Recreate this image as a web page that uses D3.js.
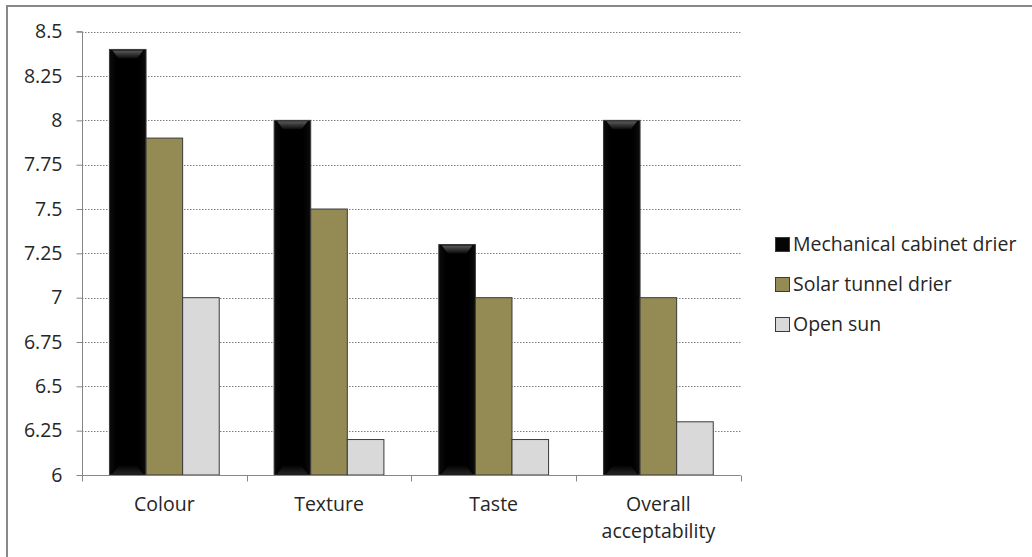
<!DOCTYPE html>
<html><head><meta charset="utf-8">
<script src="https://cdn.jsdelivr.net/npm/d3@7"></script>
<style>body{margin:0;background:#fff}svg{display:block}</style>
</head><body>
<svg id="c" width="1032" height="557"></svg>
<script>
const categories = ["Colour", "Texture", "Taste", "Overall acceptability"];
const seriesNames = ["Mechanical cabinet drier", "Solar tunnel drier", "Open sun"];
const mechanical = [8.4, 8.0, 7.3, 8.0];
const solar = [7.9, 7.5, 7.0, 7.0];
const openSun = [7.0, 6.2, 6.2, 6.3];
const yTicks = [6, 6.25, 6.5, 6.75, 7, 7.25, 7.5, 7.75, 8, 8.25, 8.5];
const seriesValues = [mechanical, solar, openSun];
const colors = ["#050505", "#948A54", "#D9D9D9"];
const strokes = ["#3a3a3a", "#3a3a3a", "#3a3a3a"];

(function(){
const svg = d3.select("#c");
const font = "'Open Sans', sans-serif";
const fs = 19.5;
svg.append("rect").attr("x",0).attr("y",0).attr("width",1032).attr("height",557).attr("fill","#fff");
svg.append("rect").attr("x",7).attr("y",6).attr("width",1100).attr("height",700)
  .attr("fill","none").attr("stroke","#888").attr("stroke-width",2);

const pL = 82, pR = 740.7, pT = 31.7, pB = 475;
const y = d3.scaleLinear().domain([6, 8.5]).range([pB, pT]);
const x0 = d3.scaleBand().domain(categories).range([pL, pR]).paddingInner(0).paddingOuter(0);
const groupW = x0.bandwidth() * (3 / 4.5);
const x1 = d3.scaleBand().domain(d3.range(3)).range([0, groupW]).padding(0);
const off = (x0.bandwidth() - groupW) / 2;

const defs = svg.append("defs");
const gTop = defs.append("linearGradient").attr("id","gtop").attr("x1",0).attr("y1",0).attr("x2",0).attr("y2",1);
gTop.append("stop").attr("offset",0).attr("stop-color","#5a5a5a");
gTop.append("stop").attr("offset",1).attr("stop-color","#0a0a0a");
const gBot = defs.append("linearGradient").attr("id","gbot").attr("x1",0).attr("y1",1).attr("x2",0).attr("y2",0);
gBot.append("stop").attr("offset",0).attr("stop-color","#222");
gBot.append("stop").attr("offset",1).attr("stop-color","#050505");
const gSide = defs.append("linearGradient").attr("id","gside").attr("x1",0).attr("y1",0).attr("x2",1).attr("y2",0);
gSide.append("stop").attr("offset",0).attr("stop-color","#0c0c0c");
gSide.append("stop").attr("offset",0.2).attr("stop-color","#000");
gSide.append("stop").attr("offset",0.8).attr("stop-color","#000");
gSide.append("stop").attr("offset",1).attr("stop-color","#0c0c0c");

svg.append("g").selectAll("line").data(yTicks.filter(t => t > 6)).join("line")
  .attr("x1", pL).attr("x2", pR)
  .attr("y1", d => Math.round(y(d)) + 0.5).attr("y2", d => Math.round(y(d)) + 0.5)
  .attr("stroke", "#7f7f7f").attr("stroke-width", 1).attr("stroke-dasharray", "1.5,1.5");

const groups = svg.append("g").selectAll("g").data(categories).join("g")
  .attr("transform", d => `translate(${x0(d) + off},0)`);
groups.each(function(cat, ci) {
  const g = d3.select(this);
  seriesValues.forEach((vals, si) => {
    const bx = x1(si), bw = x1.bandwidth(), by = y(vals[ci]), bh = pB - y(vals[ci]);
    g.append("rect").attr("x", bx).attr("y", by).attr("width", bw).attr("height", bh)
      .attr("fill", si === 0 ? "url(#gside)" : colors[si]).attr("stroke", strokes[si]).attr("stroke-width", 1);
    if (si === 0) {
      const b = 9;
      g.append("path").attr("d", `M${bx+3},${by+1}L${bx+bw-3},${by+1}L${bx+bw-b},${by+b}L${bx+b},${by+b}Z`)
        .attr("fill", "url(#gtop)");
      g.append("path").attr("d", `M${bx+3},${pB-1}L${bx+bw-3},${pB-1}L${bx+bw-b},${pB-b}L${bx+b},${pB-b}Z`)
        .attr("fill", "url(#gbot)");
    }
  });
});

const yAxis = d3.axisLeft(y).tickValues(yTicks).tickSize(6).tickPadding(14).tickFormat(d => String(d));
const ya = svg.append("g").attr("transform", `translate(${pL + 0.5},0)`).call(yAxis);
ya.select(".domain").attr("stroke", "#868686").attr("d", `M-6,${pT}H0V${pB + 6}`);
ya.selectAll(".tick line").attr("stroke", "#868686");
ya.selectAll(".tick text").attr("font-family", font).attr("font-size", fs).attr("fill", "#262626");

const xa = svg.append("g").attr("transform", `translate(0,${pB + 0.5})`);
xa.append("line").attr("x1", pL).attr("x2", pR).attr("stroke", "#868686");
xa.selectAll(".tk").data(d3.range(categories.length + 1)).join("line").attr("class","tk")
  .attr("x1", i => Math.round(pL + i * x0.step()) + 0.5).attr("x2", i => Math.round(pL + i * x0.step()) + 0.5)
  .attr("y1", 0).attr("y2", 6).attr("stroke", "#868686");
const catLabels = [["Colour"], ["Texture"], ["Taste"], ["Overall", "acceptability"]];
xa.selectAll(".cl").data(categories).join("text").attr("class","cl")
  .attr("x", d => x0(d) + x0.bandwidth() / 2).attr("y", 35)
  .attr("text-anchor", "middle").attr("font-family", font).attr("font-size", fs).attr("fill", "#262626")
  .each(function(d, i) {
    const t = d3.select(this);
    catLabels[i].forEach((line, li) => t.append("tspan").attr("x", x0(d) + x0.bandwidth() / 2).attr("dy", li ? 27 : 0).text(line));
  });

const lg = svg.append("g").selectAll("g").data(seriesNames).join("g")
  .attr("transform", (d, i) => `translate(775,${237 + i * 40})`);
lg.append("rect").attr("width", 14).attr("height", 14).attr("x", 0.5).attr("y", 0.5)
  .attr("fill", (d, i) => colors[i]).attr("stroke", "#3a3a3a");
lg.append("text").attr("x", 18).attr("y", 14).attr("font-family", font).attr("font-size", fs).attr("fill", "#262626").text(d => d);
})();
</script>
</body></html>
